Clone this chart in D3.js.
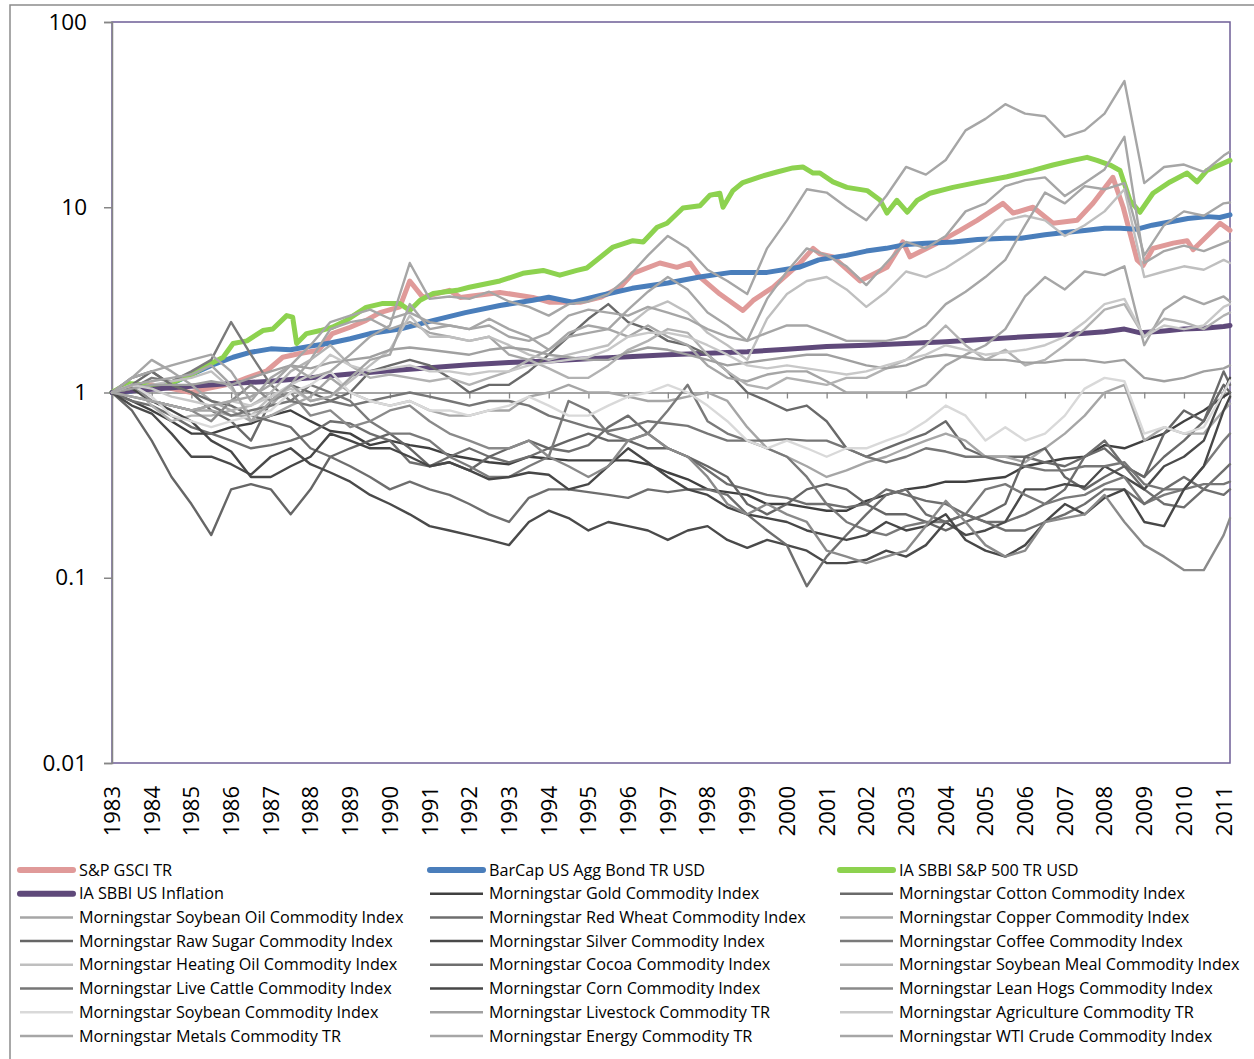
<!DOCTYPE html>
<html><head><meta charset="utf-8">
<script src="https://cdn.jsdelivr.net/npm/d3@7"></script>
<style>body{margin:0;background:#fff} text{font-family:"Open Sans",sans-serif;fill:#000}</style>
</head><body>
<svg id="c" width="1254" height="1059"></svg>
<script>
// ---------- DATA ----------
const yearTicks = d3.range(1983, 2012);
const yTickValues = [0.01, 0.1, 1, 10, 100];
const yTickLabels = ["0.01", "0.1", "1", "10", "100"];

// colored series (own time points)
const gsciYears = [1983,1983.5,1984,1984.5,1985,1985.4,1986.05,1986.4,1986.9,1987.3,1987.7,1988.2,1988.55,1989,1989.4,1989.75,1990.25,1990.5,1990.83,1991.5,1991.77,1992.77,1993.6,1994.03,1994.79,1995.3,1995.8,1996.12,1996.8,1997.23,1997.56,1997.81,1998.31,1998.89,1999.15,1999.65,2000.33,2000.66,2000.83,2001.16,2001.84,2002.52,2002.92,2003.1,2003.78,2004.36,2004.79,2005.44,2005.7,2006.2,2006.7,2007.31,2007.71,2008.21,2008.47,2008.82,2008.97,2009.22,2009.73,2010.08,2010.23,2010.91,2011.16];
const gsciValues = [1,1.05,1.1,1.05,1.0,1.05,1.12,1.2,1.31,1.55,1.62,1.69,2.08,2.25,2.45,2.7,2.9,4.0,3.26,3.56,3.26,3.47,3.26,3.07,3.07,3.26,3.7,4.4,5.0,4.74,5.0,4.2,3.4,2.77,3.14,3.7,5.0,6.0,5.6,5.4,4.0,4.74,6.5,5.4,6.4,7.5,8.5,10.5,9.3,10,8.2,8.5,10.5,14.5,10,5.2,4.85,6.0,6.4,6.6,5.9,8.2,7.5];

const bondYears = [1983,1983.5,1984,1984.5,1985,1985.5,1986.05,1986.5,1987,1987.5,1988,1988.5,1989,1989.5,1990.25,1991.1,1991.9,1992.77,1993.6,1994.0,1994.6,1995.3,1996.1,1997.0,1997.8,1998.6,1999.5,2000.3,2000.8,2001.5,2002.0,2002.5,2003.0,2003.5,2004.2,2004.8,2005.5,2005.9,2006.5,2007.0,2007.5,2008.0,2008.4,2008.8,2009.2,2009.6,2010.1,2010.6,2010.9,2011.16];
const bondValues = [1,1.02,1.07,1.12,1.25,1.4,1.55,1.65,1.72,1.7,1.78,1.85,1.95,2.08,2.2,2.45,2.7,2.95,3.15,3.27,3.07,3.34,3.65,3.9,4.2,4.45,4.45,4.74,5.2,5.5,5.8,6.0,6.3,6.4,6.5,6.7,6.8,6.8,7.1,7.3,7.5,7.7,7.7,7.6,8.0,8.3,8.7,8.9,8.8,9.1];

const sp500Years = [1983,1983.4,1983.8,1984.2,1984.6,1985,1985.4,1985.8,1986.05,1986.4,1986.8,1987.05,1987.4,1987.55,1987.65,1987.9,1988.25,1988.55,1988.9,1989.4,1989.8,1990.25,1990.5,1990.76,1991.09,1991.69,1992.0,1992.77,1993.35,1993.86,1994.28,1994.71,1994.96,1995.62,1996.12,1996.38,1996.73,1996.98,1997.38,1997.81,1998.06,1998.31,1998.39,1998.64,1998.89,1999.32,1999.75,2000.15,2000.4,2000.66,2000.83,2001.16,2001.51,2002.02,2002.35,2002.52,2002.77,2003.03,2003.28,2003.6,2004.18,2004.86,2005.54,2006.2,2006.7,2007.2,2007.56,2007.81,2008.14,2008.39,2008.64,2008.89,2009.22,2009.65,2010.08,2010.33,2010.58,2011.16];
const sp500Values = [1,1.12,1.1,1.05,1.15,1.25,1.4,1.55,1.84,1.9,2.16,2.2,2.6,2.55,1.84,2.08,2.16,2.25,2.45,2.88,3.02,3.02,2.77,3.15,3.42,3.56,3.7,4.0,4.4,4.56,4.3,4.56,4.7,6.1,6.6,6.5,7.8,8.2,9.9,10.2,11.6,11.9,10.0,12.3,13.6,14.6,15.5,16.3,16.5,15.3,15.3,13.7,12.8,12.3,10.9,9.3,10.9,9.4,10.9,11.9,12.8,13.7,14.6,15.8,16.9,17.9,18.6,17.9,16.9,15.8,10.9,9.4,11.9,13.7,15.3,13.7,15.8,17.9];

const inflationYears = [1983,1984,1985,1986,1987,1988,1989,1990,1991,1992,1993,1994,1995,1996,1997,1998,1999,2000,2001,2002,2003,2004,2005,2006,2007,2008,2008.5,2008.9,2009.5,2010,2010.5,2011,2011.16];
const inflationValues = [1,1.04,1.08,1.12,1.15,1.2,1.26,1.31,1.36,1.41,1.45,1.48,1.52,1.56,1.6,1.63,1.66,1.71,1.77,1.8,1.84,1.88,1.94,2.0,2.05,2.13,2.2,2.1,2.15,2.2,2.22,2.27,2.3];

// grey series: half-year grid 1983.0 ... 2011.0, then 2011.16
const halfYears = d3.range(1983, 2011.01, 0.5).concat([2011.16]);
const gold = [1.0,0.9,0.8,0.7,0.6,0.6,0.65,0.68,0.75,0.8,0.7,0.62,0.6,0.52,0.55,0.52,0.5,0.46,0.44,0.42,0.41,0.45,0.44,0.43,0.43,0.43,0.43,0.41,0.37,0.34,0.3,0.29,0.28,0.25,0.25,0.24,0.23,0.23,0.26,0.28,0.3,0.31,0.33,0.33,0.34,0.35,0.4,0.42,0.44,0.45,0.52,0.5,0.55,0.6,0.7,0.8,0.95,1.0];
const cotton = [1.0,1.2,1.3,1.1,1.0,0.8,0.7,0.55,0.9,1.1,1.0,0.9,1.0,1.3,1.4,1.5,1.4,1.2,1.0,1.1,1.1,1.3,1.6,2.0,2.5,3.0,2.4,2.2,1.9,1.8,1.6,1.3,1.0,0.9,0.8,0.85,0.7,0.5,0.45,0.5,0.55,0.6,0.7,0.5,0.45,0.45,0.45,0.42,0.4,0.45,0.5,0.4,0.35,0.45,0.55,0.7,1.3,1.1];
const soybeanOil = [1.0,1.2,1.5,1.3,1.1,0.9,0.8,0.7,0.75,0.85,0.95,1.2,1.0,0.9,0.85,0.9,0.8,0.75,0.75,0.8,0.8,0.95,1.0,1.1,1.0,1.0,0.95,0.9,0.9,0.95,1.0,0.9,0.65,0.5,0.45,0.4,0.35,0.38,0.42,0.45,0.5,0.55,0.6,0.55,0.45,0.45,0.42,0.5,0.6,0.75,1.0,1.1,0.55,0.65,0.6,0.6,0.8,0.87];
const redWheat = [1.0,0.9,0.85,0.75,0.65,0.6,0.55,0.5,0.52,0.55,0.6,0.7,0.68,0.6,0.55,0.42,0.4,0.45,0.5,0.45,0.42,0.45,0.5,0.48,0.52,0.65,0.75,0.6,0.5,0.45,0.38,0.32,0.3,0.28,0.27,0.25,0.25,0.24,0.25,0.3,0.28,0.26,0.25,0.22,0.2,0.2,0.22,0.25,0.3,0.45,0.55,0.4,0.3,0.25,0.24,0.3,0.38,0.41];
const copper = [1.0,1.1,0.9,0.85,0.8,0.8,0.75,0.75,0.85,1.1,1.5,2.2,2.4,2.5,2.2,2.4,2.1,2.0,1.9,2.0,1.6,1.5,1.7,2.1,2.3,2.2,2.0,2.3,2.0,1.8,1.4,1.2,1.15,1.25,1.3,1.3,1.15,1.0,1.0,1.0,1.0,1.1,1.4,1.6,1.8,2.2,3.3,4.2,3.6,4.5,4.3,4.8,1.8,2.8,3.3,3.0,3.3,3.1];
const rawSugar = [1.0,0.8,0.55,0.35,0.25,0.17,0.3,0.32,0.3,0.22,0.3,0.45,0.5,0.55,0.6,0.5,0.4,0.42,0.38,0.45,0.5,0.55,0.5,0.55,0.6,0.55,0.55,0.5,0.5,0.45,0.4,0.35,0.25,0.22,0.25,0.3,0.32,0.3,0.25,0.22,0.22,0.2,0.18,0.2,0.22,0.25,0.45,0.5,0.35,0.3,0.35,0.4,0.35,0.6,0.8,0.7,1.1,1.0];
const silver = [1.0,0.85,0.77,0.6,0.45,0.45,0.41,0.36,0.45,0.5,0.41,0.37,0.33,0.28,0.25,0.22,0.19,0.18,0.17,0.16,0.15,0.2,0.23,0.21,0.18,0.2,0.19,0.18,0.16,0.18,0.19,0.16,0.145,0.16,0.15,0.14,0.12,0.12,0.125,0.14,0.13,0.15,0.2,0.17,0.18,0.2,0.3,0.3,0.32,0.31,0.4,0.35,0.3,0.4,0.45,0.55,1.0,1.2];
const coffee = [1.0,1.05,1.2,1.15,1.3,1.5,2.4,1.6,1.1,0.9,1.1,1.0,0.9,0.7,0.6,0.6,0.55,0.45,0.4,0.35,0.35,0.4,0.45,0.9,0.8,0.6,0.55,0.6,0.8,1.1,0.7,0.6,0.55,0.5,0.45,0.35,0.25,0.2,0.18,0.17,0.19,0.2,0.2,0.22,0.3,0.32,0.28,0.25,0.27,0.28,0.32,0.35,0.25,0.28,0.3,0.4,0.55,0.6];
const heatingOil = [1.0,1.05,1.1,1.15,1.2,1.3,1.05,0.75,0.95,1.05,0.9,0.95,1.15,1.4,1.7,2.6,2.0,2.0,1.9,2.0,1.8,1.6,1.5,1.6,1.7,1.8,2.3,2.8,3.1,2.7,2.1,1.8,1.5,2.5,3.4,4.0,4.2,3.6,2.9,3.5,4.5,4.2,4.7,5.5,6.5,8.5,9.0,8.5,7.0,8.0,9.5,12.5,4.2,4.5,4.8,4.6,5.2,5.0];
const cocoa = [1.0,1.1,1.3,1.1,1.0,0.9,0.85,0.75,0.7,0.65,0.5,0.45,0.4,0.35,0.3,0.33,0.3,0.28,0.25,0.22,0.2,0.27,0.3,0.3,0.29,0.28,0.27,0.3,0.29,0.3,0.3,0.28,0.22,0.18,0.15,0.09,0.13,0.17,0.22,0.28,0.3,0.22,0.2,0.22,0.2,0.18,0.18,0.2,0.22,0.25,0.3,0.3,0.25,0.3,0.35,0.3,0.28,0.3];
const soybeanMeal = [1.0,1.1,0.85,0.7,0.75,0.75,0.8,0.85,1.0,1.3,1.5,1.8,1.4,1.2,1.25,1.2,1.15,1.2,1.1,1.2,1.3,1.5,1.35,1.2,1.2,1.4,1.7,1.9,2.2,2.1,1.6,1.3,1.1,1.05,1.2,1.15,1.1,1.2,1.2,1.35,1.5,1.8,2.3,1.8,1.5,1.7,1.4,1.5,1.8,2.2,2.8,3.0,2.0,2.5,2.4,2.2,2.6,2.7];
const liveCattle = [1.0,0.95,0.9,0.85,0.8,0.85,0.75,0.8,0.85,0.9,0.85,0.9,0.85,0.9,0.95,1.0,0.95,0.9,0.85,0.9,0.9,0.85,0.75,0.7,0.65,0.62,0.65,0.7,0.68,0.66,0.6,0.55,0.55,0.55,0.56,0.55,0.55,0.5,0.45,0.42,0.45,0.5,0.48,0.45,0.45,0.42,0.4,0.38,0.38,0.4,0.4,0.42,0.32,0.3,0.3,0.32,0.32,0.33];
const corn = [1.0,1.05,0.9,0.8,0.7,0.55,0.48,0.35,0.35,0.4,0.45,0.6,0.55,0.5,0.5,0.45,0.4,0.42,0.38,0.34,0.35,0.37,0.36,0.3,0.32,0.4,0.5,0.42,0.35,0.3,0.28,0.24,0.22,0.21,0.2,0.18,0.17,0.16,0.17,0.2,0.18,0.19,0.22,0.16,0.14,0.13,0.15,0.2,0.25,0.22,0.27,0.3,0.2,0.19,0.3,0.4,0.8,0.95];
const leanHogs = [1.0,1.1,0.9,0.85,0.8,0.7,0.9,1.1,0.9,1.0,0.75,0.8,0.65,0.7,0.8,0.85,0.7,0.6,0.55,0.5,0.5,0.55,0.45,0.4,0.35,0.4,0.55,0.6,0.5,0.45,0.35,0.25,0.22,0.25,0.22,0.2,0.14,0.13,0.12,0.13,0.14,0.19,0.26,0.2,0.15,0.13,0.14,0.2,0.21,0.22,0.28,0.2,0.15,0.13,0.11,0.11,0.17,0.21];
const soybean = [1.0,1.1,0.95,0.75,0.7,0.65,0.7,0.75,0.8,1.0,1.1,1.3,1.0,0.9,0.85,0.9,0.8,0.8,0.75,0.8,0.85,0.95,0.85,0.75,0.75,0.85,0.95,1.0,1.1,1.0,0.85,0.7,0.55,0.5,0.55,0.5,0.45,0.5,0.5,0.55,0.6,0.7,0.85,0.75,0.55,0.65,0.55,0.6,0.75,1.05,1.2,1.15,0.6,0.65,0.6,0.65,1.0,1.16];
const livestockTR = [1.0,1.05,1.1,1.1,1.1,1.15,1.1,1.2,1.3,1.4,1.35,1.45,1.5,1.55,1.7,1.75,1.7,1.65,1.6,1.7,1.75,1.7,1.6,1.55,1.5,1.5,1.65,1.75,1.7,1.6,1.5,1.4,1.45,1.5,1.55,1.6,1.6,1.5,1.4,1.35,1.4,1.55,1.6,1.55,1.5,1.5,1.45,1.45,1.5,1.5,1.45,1.5,1.2,1.15,1.2,1.3,1.35,1.4];
const agricultureTR = [1.0,1.1,1.05,0.95,0.9,0.85,0.9,0.85,0.95,1.1,1.25,1.6,1.4,1.3,1.35,1.4,1.3,1.3,1.25,1.3,1.3,1.4,1.45,1.5,1.55,1.7,2.0,2.1,2.1,2.0,1.8,1.6,1.4,1.35,1.4,1.35,1.3,1.25,1.3,1.4,1.5,1.6,1.8,1.7,1.6,1.65,1.7,1.8,2.0,2.4,3.0,3.2,2.0,2.3,2.2,2.3,2.9,3.0];
const metalsTR = [1.0,0.95,0.9,0.85,0.8,0.85,0.9,0.95,1.1,1.4,1.8,2.4,2.6,2.8,2.5,2.7,2.4,2.3,2.2,2.3,2.0,1.9,2.1,2.6,2.8,2.7,2.6,2.9,2.7,2.5,2.2,2.0,1.9,2.1,2.3,2.3,2.1,1.9,1.9,1.9,2.0,2.3,3.0,3.5,4.2,5.2,8.0,12.0,10.5,13.0,12.5,13.5,5.5,8.0,9.5,9.0,10.5,10.6];
const energyTR = [1.0,1.2,1.3,1.4,1.5,1.6,1.3,0.9,1.2,1.4,1.2,1.3,1.6,2.0,2.3,5.0,3.2,3.3,3.2,3.5,3.1,2.9,2.6,3.0,3.1,3.4,4.2,5.5,7.0,6.0,4.6,4.0,3.4,6.0,8.5,12.5,12.0,10.0,8.5,11.5,16.5,15.0,18.0,26.0,30.0,36.0,32.0,31.0,24.0,26.0,32.0,48.0,13.5,16.5,17.0,15.5,19.0,20.0];
const wtiCrude = [1.0,1.1,1.15,1.2,1.25,1.4,1.1,0.7,0.9,1.1,0.9,0.95,1.2,1.5,1.6,3.0,2.2,2.3,2.2,2.5,2.2,2.0,1.7,2.0,2.1,2.2,2.8,3.5,4.2,3.6,2.7,2.3,1.9,3.2,4.5,6.0,5.5,4.8,3.8,5.0,6.5,6.0,7.0,9.5,10.5,13.0,14.0,14.5,11.5,13.5,16.0,24.0,5.0,5.8,6.2,5.8,6.4,6.6];

const seriesNames = ["S&P GSCI TR","BarCap US Agg Bond TR USD","IA SBBI S&P 500 TR USD","IA SBBI US Inflation",
 "Morningstar Gold Commodity Index","Morningstar Cotton Commodity Index","Morningstar Soybean Oil Commodity Index",
 "Morningstar Red Wheat Commodity Index","Morningstar Copper Commodity Index","Morningstar Raw Sugar Commodity Index",
 "Morningstar Silver Commodity Index","Morningstar Coffee Commodity Index","Morningstar Heating Oil Commodity Index",
 "Morningstar Cocoa Commodity Index","Morningstar Soybean Meal Commodity Index","Morningstar Live Cattle Commodity Index",
 "Morningstar Corn Commodity Index","Morningstar Lean Hogs Commodity Index","Morningstar Soybean Commodity Index",
 "Morningstar Livestock Commodity TR","Morningstar Agriculture Commodity TR","Morningstar Metals Commodity TR",
 "Morningstar Energy Commodity TR","Morningstar WTI Crude Commodity Index"];
const seriesColors = ["#e09a99","#4a7ebb","#8dd24f","#5f497a",
 "#404040","#6a6a6a","#a6a6a6","#6e6e6e","#a6a6a6","#666666","#4a4a4a","#7a7a7a","#bfbfbf","#6e6e6e",
 "#b2b2b2","#767676","#474747","#8a8a8a","#d9d9d9","#a0a0a0","#c8c8c8","#a6a6a6","#a6a6a6","#a6a6a6"];

// ---------- BUILD ----------
const zip = (xs, vs) => xs.map((x, i) => [x, vs[i]]);
const series = [
  zip(gsciYears, gsciValues), zip(bondYears, bondValues), zip(sp500Years, sp500Values), zip(inflationYears, inflationValues),
  ...[gold,cotton,soybeanOil,redWheat,copper,rawSugar,silver,coffee,heatingOil,cocoa,soybeanMeal,liveCattle,corn,leanHogs,soybean,livestockTR,agricultureTR,metalsTR,energyTR,wtiCrude].map(v => zip(halfYears, v))
].map((pts, i) => ({name: seriesNames[i], color: seriesColors[i], thick: i < 4, pts}));

const svg = d3.select("#c");
const L = 112, R = 1230, T = 22, B = 763;
const x = d3.scaleLinear().domain([1983, 2011.16]).range([L, R]);
const y = d3.scaleLog().domain([0.01, 100]).range([B, T]);

// outer chart border
svg.append("path").attr("d", "M10,1059V5H1254").attr("fill", "none").attr("stroke", "#8c8c8c").attr("stroke-width", 1.5);

// plot border (purple)
svg.append("rect").attr("x", L).attr("y", T).attr("width", R - L).attr("height", B - T)
  .attr("fill", "none").attr("stroke", "#6e5e96").attr("stroke-width", 1.5);

// x axis at value 1
const xAxis = svg.append("g").attr("transform", `translate(0,${y(1)})`)
  .call(d3.axisBottom(x).tickValues(yearTicks).tickSize(6).tickFormat(""));
xAxis.selectAll("path,line").attr("stroke", "#868686").attr("stroke-width", 1.3);

// y axis
const yAxis = svg.append("g").attr("transform", `translate(${L},0)`)
  .call(d3.axisLeft(y).tickValues(yTickValues).tickSize(8).tickPadding(17)
    .tickFormat((d, i) => yTickLabels[i]));
yAxis.selectAll("path,line").attr("stroke", "#868686").attr("stroke-width", 1.5);
yAxis.selectAll("text").attr("font-size", 22.5).attr("font-family", "Open Sans").attr("fill", "#000");

// rotated year labels
svg.append("g").selectAll("text").data(yearTicks).join("text")
  .attr("transform", d => `translate(${x(d)},786) rotate(-90)`)
  .attr("text-anchor", "end").attr("dy", "0.36em").attr("font-size", 22)
  .text(d => d);

// lines
const line = d3.line().x(d => x(d[0])).y(d => y(d[1]));
svg.append("g").selectAll("path").data(series).join("path")
  .attr("d", d => line(d.pts)).attr("fill", "none")
  .attr("stroke", d => d.color).attr("stroke-width", d => d.thick ? 5 : 2.4)
  .attr("stroke-linejoin", "round").attr("stroke-linecap", "round");

// legend
const colX = [20, 430, 840];
const lg = svg.append("g").selectAll("g").data(series).join("g")
  .attr("transform", (d, i) => `translate(${colX[i % 3]},${870 + Math.floor(i / 3) * 23.7})`);
lg.append("line").attr("x1", 0).attr("x2", 53).attr("stroke", d => d.color)
  .attr("stroke-width", d => d.thick ? 6 : 2.5).attr("stroke-linecap", d => d.thick ? "round" : "butt");
lg.append("text").attr("x", 59).attr("dy", "0.35em").attr("font-size", 16.2).text(d => d.name);
</script></body></html>
